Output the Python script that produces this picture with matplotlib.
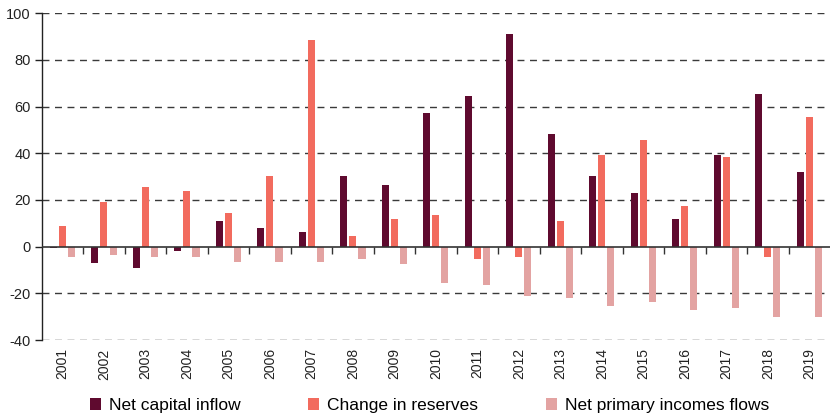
import matplotlib
matplotlib.use("Agg")
import matplotlib.pyplot as plt
import numpy as np

years = [str(y) for y in range(2001, 2020)]
net_capital_inflow = [-0.7, -7.1, -9.0, -1.7, 11.0, 8.1, 6.3, 30.1, 26.4, 57.3,
                      64.7, 91.2, 48.3, 30.1, 22.9, 11.9, 39.2, 65.6, 31.9]
change_in_reserves = [9.0, 19.2, 25.4, 23.7, 14.6, 30.1, 88.4, 4.4, 11.9, 13.6,
                      -5.4, -4.6, 11.0, 39.2, 45.6, 17.3, 38.3, -4.6, 55.6]
net_primary_incomes = [-4.6, -3.6, -4.6, -4.6, -6.4, -6.4, -6.4, -5.4, -7.4, -15.4,
                       -16.4, -21.0, -21.9, -25.4, -23.6, -27.3, -26.4, -30.0, -30.0]
series_names = ["Net capital inflow", "Change in reserves", "Net primary incomes flows"]
colors = ["#5F0A2F", "#F26B5E", "#E3A3A2"]
yticks = [-40, -20, 0, 20, 40, 60, 80, 100]

plt.rcParams['font.family'] = ['Liberation Sans', 'DejaVu Sans']

fig = plt.figure(figsize=(8.3, 4.18), dpi=100)
ax = fig.add_axes([0.0502, 0.1866, 0.9498, 0.7816])

x = np.arange(len(years))
w = 0.17
step = 0.22
for i, (vals, c, name) in enumerate(zip([net_capital_inflow, change_in_reserves, net_primary_incomes], colors, series_names)):
    ax.bar(x + (i - 1) * step, vals, width=w, color=c, label=name, zorder=3)

ax.set_xlim(-0.5, len(years) - 0.5)
ax.set_ylim(-40, 100)
ax.set_yticks(yticks)
ax.set_yticklabels([str(v) for v in yticks], fontsize=10.5)
ax.tick_params(axis='y', length=5, width=1, color='#222222', pad=3, labelcolor='#222222')

ax.set_xticks(x)
ax.set_xticklabels(years, rotation=90, fontsize=10, color='#222222')
ax.tick_params(axis='x', length=0, pad=6)

for yv in yticks:
    if yv != 0:
        ax.axhline(yv, color='#3a3a3a', lw=1.0, ls=(0, (5, 4)), zorder=1)
ax.axhline(0, color='#333333', lw=1.2, zorder=4)

for s in ['top', 'right', 'bottom']:
    ax.spines[s].set_visible(False)
ax.spines['left'].set_color('#222222')
ax.spines['left'].set_linewidth(1.0)

sec = ax.secondary_xaxis(40 / 140)
sec.set_xticks(np.arange(0.5, len(years) - 0.5, 1.0))
sec.set_xticklabels([])
sec.tick_params(axis='x', length=5, width=1, color='#333333', direction='out')
sec.spines['bottom'].set_visible(False)

fig.legend(loc='center', bbox_to_anchor=(0.5175, 0.029), ncol=3, frameon=False,
           fontsize=12.5, handlelength=0.65, handleheight=0.7, columnspacing=3.9,
           handletextpad=0.45, borderpad=0.2)

fig.savefig("out.png", dpi=100)
